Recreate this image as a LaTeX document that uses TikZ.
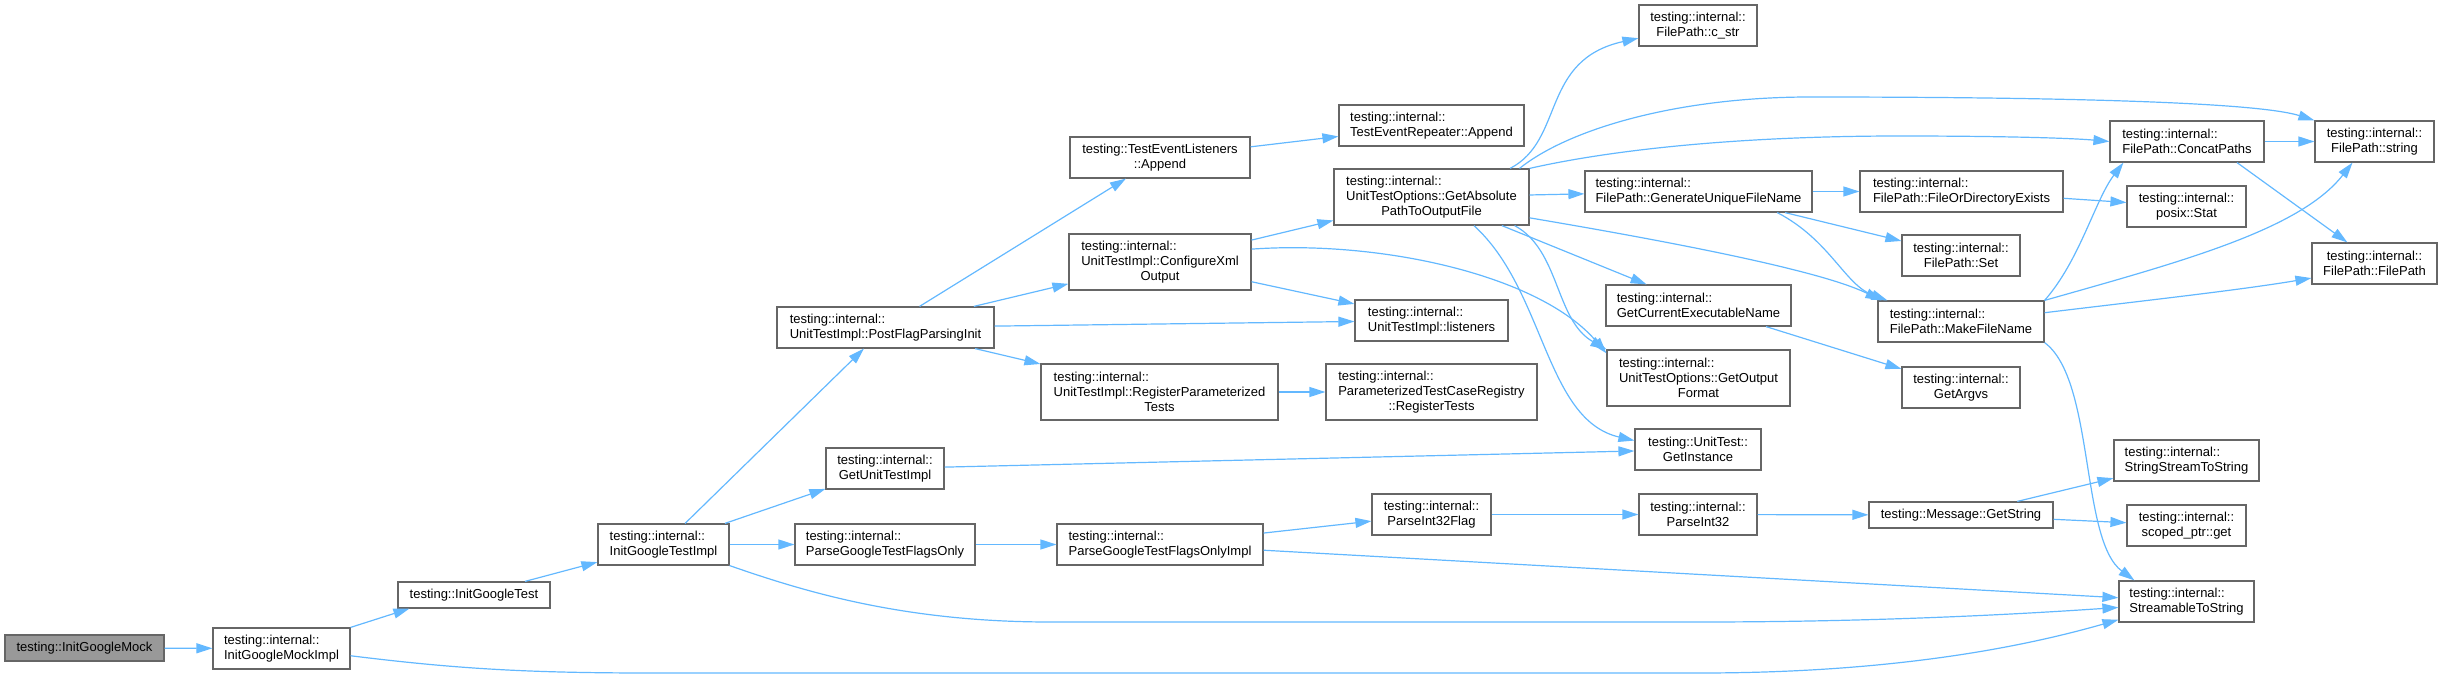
\documentclass[tikz,border=0pt]{standalone}
\usepackage{fontspec}
\setmainfont{Liberation Sans}
\usepackage{xcolor}
\usepackage{tikz}
\usetikzlibrary{arrows.meta}

\definecolor{edgeblue}{HTML}{63B8FF}
\definecolor{boxgrey}{HTML}{666666}
\definecolor{rootgrey}{HTML}{999999}
% centred line inside a left aligned label
\newcommand\cl[1]{\hspace*{\fill}#1\hspace*{\fill}}
% box given by its corners in pixels
\newcommand\fn[7][]{\node[fn,#1,minimum width={(#5-#3)*0.5pt},minimum height={(#6-#4)*0.5pt}]
  (#2) at ({(#3+#5)/2},{(#4+#6)/2}) {#7};}

\begin{document}
\begin{tikzpicture}[x=0.5pt,y=-0.5pt,
    fn/.style={draw=boxgrey,line width=0.6pt,fill=white,inner sep=1pt,align=left,
      font=\fontsize{6.5}{7.5}\selectfont},
    callto/.style={draw=edgeblue,line width=0.6pt,-{Triangle[length=8pt,width=5pt]}}]
    \useasboundingbox (0,0) rectangle (2442,679);
    % functions
    \fn[fill=rootgrey]{igm}{5}{635}{164}{661}{testing::InitGoogleMock}
    \fn{igmi}{213}{628}{350}{669}{testing::internal::\\InitGoogleMockImpl}
    \fn{igt}{398}{582}{550}{608}{testing::InitGoogleTest}
    \fn{igti}{598}{524}{729}{565}{testing::internal::\\InitGoogleTestImpl}
    \fn{pfpi}{777}{307}{994}{348}{testing::internal::\\UnitTestImpl::PostFlagParsingInit}
    \fn[align=center]{gui}{826}{448}{944}{489}{testing::internal::\\GetUnitTestImpl}
    \fn{pgtfo}{795}{524}{975}{565}{testing::internal::\\ParseGoogleTestFlagsOnly}
    \fn{pgtfoi}{1057}{524}{1263}{565}{testing::internal::\\ParseGoogleTestFlagsOnlyImpl}
    \fn[align=center]{tela}{1070}{137}{1250}{178}{testing::TestEventListeners\\::Append}
    \fn{cxo}{1069}{234}{1251}{290}{testing::internal::\\UnitTestImpl::ConfigureXml\\\cl{Output}}
    \fn{rpt}{1041}{364}{1278}{420}{testing::internal::\\UnitTestImpl::RegisterParameterized\\\cl{Tests}}
    \fn{tera}{1339}{105}{1524}{146}{testing::internal::\\TestEventRepeater::Append}
    \fn{gapof}{1334}{169}{1529}{225}{testing::internal::\\UnitTestOptions::GetAbsolute\\\cl{PathToOutputFile}}
    \fn{lst}{1355}{300}{1508}{341}{testing::internal::\\UnitTestImpl::listeners}
    \fn{rt}{1326}{364}{1537}{420}{testing::internal::\\ParameterizedTestCaseRegistry\\\cl{::RegisterTests}}
    \fn[align=center]{gi}{1635}{429}{1761}{470}{testing::UnitTest::\\GetInstance}
    \fn[align=center]{pi32f}{1372}{494}{1491}{535}{testing::internal::\\ParseInt32Flag}
    \fn[align=center]{cstr}{1639}{5}{1757}{46}{testing::internal::\\FilePath::c\_str}
    \fn{gufn}{1585}{171}{1812}{212}{testing::internal::\\FilePath::GenerateUniqueFileName}
    \fn{gcen}{1606}{285}{1791}{326}{testing::internal::\\GetCurrentExecutableName}
    \fn{gof}{1607}{350}{1790}{406}{testing::internal::\\UnitTestOptions::GetOutput\\\cl{Format}}
    \fn[align=center]{pi32}{1639}{494}{1757}{535}{testing::internal::\\ParseInt32}
    \fn{gs}{1869}{502}{2053}{528}{testing::Message::GetString}
    \fn{fode}{1860}{171}{2063}{212}{testing::internal::\\FilePath::FileOrDirectoryExists}
    \fn{cp}{2110}{121}{2264}{162}{testing::internal::\\FilePath::ConcatPaths}
    \fn[align=center]{fps}{2315}{121}{2434}{162}{testing::internal::\\FilePath::string}
    \fn[align=center]{st}{2127}{186}{2246}{227}{testing::internal::\\posix::Stat}
    \fn[align=center]{set}{1902}{235}{2020}{276}{testing::internal::\\FilePath::Set}
    \fn[align=center]{fpfp}{2312}{243}{2437}{284}{testing::internal::\\FilePath::FilePath}
    \fn{mfn}{1878}{301}{2044}{342}{testing::internal::\\FilePath::MakeFileName}
    \fn[align=center]{ga}{1902}{367}{2020}{408}{testing::internal::\\GetArgvs}
    \fn{ssts}{2114}{440}{2259}{481}{testing::internal::\\StringStreamToString}
    \fn[align=center]{sp}{2127}{505}{2246}{546}{testing::internal::\\scoped\_ptr::get}
    \fn{sts}{2119}{581}{2254}{622}{testing::internal::\\StreamableToString}
    % calls
    \draw[callto] (igm) -- (igmi);
    \draw[callto] (igmi.north east) -- ([xshift=6pt]igt.south west);
    \draw[callto] (igmi.-6) .. controls (450,668) and (520,673) .. (650,673) -- (1700,673)
      .. controls (1900,673) and (2030,645) .. (sts.195);
    \draw[callto] (igt) -- (igti);
    \draw[callto] (igti) -- (pfpi);
    \draw[callto] (igti) -- (gui);
    \draw[callto] (igti) -- (pgtfo);
    \draw[callto] (igti.south east) .. controls (800,590) and (900,622) .. (1050,622) -- (1700,622)
      .. controls (1900,622) and (2050,612) .. (sts.185);
    \draw[callto] (pfpi) -- (tela);
    \draw[callto] (pfpi) -- (cxo);
    \draw[callto] (pfpi) -- (lst);
    \draw[callto] (pfpi) -- (rpt);
    \draw[callto] (tela) -- (tera);
    \draw[callto] (cxo) -- (gapof);
    \draw[callto] (cxo.8) .. controls (1380,240) and (1540,275) .. (gof.165);
    \draw[callto] (cxo) -- (lst);
    \draw[callto] (rpt) -- (rt);
    \draw[callto] (gui) -- (gi);
    \draw[callto] (pgtfo) -- (pgtfoi);
    \draw[callto] (pgtfoi) -- (pi32f);
    \draw[callto] (pgtfoi) -- (sts);
    \draw[callto] (pi32f) -- (pi32);
    \draw[callto] (pi32) -- (gs);
    \draw[callto] (gs) -- (ssts);
    \draw[callto] (gs) -- (sp);
    \draw[callto] (gapof.20) .. controls (1565,140) and (1540,60) .. (cstr.192);
    \draw[callto] (gapof.18) .. controls (1570,128) and (1680,97) .. (1810,97)
      .. controls (2000,97) and (2250,100) .. (fps.north west);
    \draw[callto] (gapof.north east) .. controls (1620,148) and (1750,136) .. (1900,136)
      .. controls (2000,136) and (2070,138) .. (cp.west);
    \draw[callto] (gapof) -- (gufn);
    \draw[callto] (gapof.-12) .. controls (1720,250) and (1830,275) .. ([xshift=2pt]mfn.north west);
    \draw[callto] (gapof) -- (gcen);
    \draw[callto] (gapof.-19) .. controls (1560,250) and (1555,320) .. (gof.north west);
    \draw[callto] (gapof.-34) .. controls (1545,290) and (1545,420) .. (gi.172);
    \draw[callto] (gufn) -- (fode);
    \draw[callto] (gufn) -- (set);
    \draw[callto] (gufn.-15) .. controls (1830,240) and (1845,285) .. ([xshift=5pt]mfn.north west);
    \draw[callto] (fode) -- (st);
    \draw[callto] (gcen) -- (ga);
    \draw[callto] (mfn.north east) .. controls (2080,260) and (2095,200) .. ([xshift=7pt]cp.south west);
    \draw[callto] (mfn.north east) .. controls (2180,262) and (2300,230) .. ([xshift=-11pt]fps.south);
    \draw[callto] (mfn.6) .. controls (2150,300) and (2240,290) .. (fpfp.193);
    \draw[callto] (mfn.south east) .. controls (2095,380) and (2080,540) .. ([xshift=8pt]sts.north west);
    \draw[callto] (cp) -- (fps);
    \draw[callto] ([xshift=25pt]cp.south) -- ([xshift=18pt]fpfp.north west);
\end{tikzpicture}
\end{document}
